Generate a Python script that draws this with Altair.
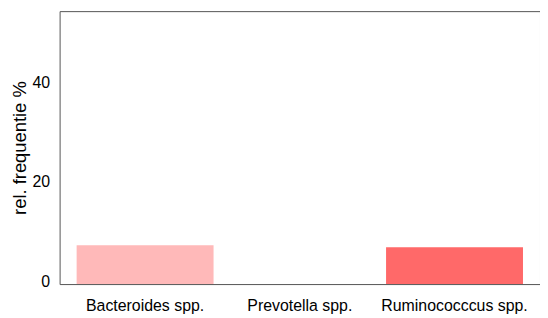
import altair as alt
import pandas as pd

categories = ["Bacteroides spp.", "Prevotella spp.", "Ruminococccus spp."]
values = [7.8, 0.0, 7.4]
colors = ["#ffb9b9", "#ffffff", "#ff6969"]

df = pd.DataFrame({"cat": categories, "val": values, "col": colors})

chart = alt.Chart(df).mark_bar().encode(
    x=alt.X("cat:N", sort=categories,
            scale=alt.Scale(paddingInner=0.115, paddingOuter=0.11),
            axis=alt.Axis(title=None, labelAngle=0, ticks=False, domain=False,
                          labelFontSize=16, labelPadding=14, labelColor="#000",
                          labelFont="Liberation Sans")),
    y=alt.Y("val:Q", scale=alt.Scale(domain=[0, 55], nice=False),
            axis=alt.Axis(title="rel. frequentie %", values=[0, 20, 40], ticks=False,
                          domain=False, grid=False, labelFontSize=16, labelPadding=10,
                          labelOffset=-3,
                          labelColor="#000", labelFont="Liberation Sans",
                          titleFontSize=18.5, titleFontWeight="normal", titleColor="#000",
                          titleFont="Liberation Sans", titlePadding=3)),
    color=alt.Color("col:N", scale=None, legend=None),
).properties(
    width=484, height=275,
    autosize=alt.AutoSizeParams(type="none"),
    padding={"left": 52, "top": 2, "right": 0, "bottom": 30},
).configure_view(stroke="#555555", strokeWidth=1).configure_axis(grid=False)

chart.save("out.html", embed_options={"renderer": "svg", "actions": False})
